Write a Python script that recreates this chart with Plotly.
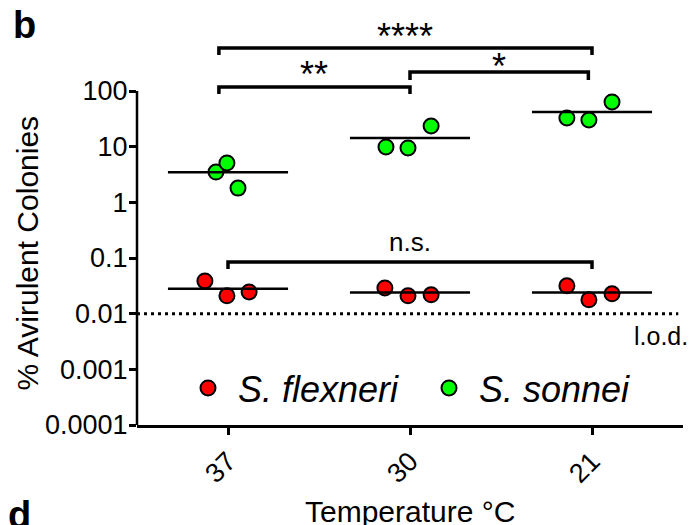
import numpy as np
import plotly.graph_objects as go

# ---------------- data ----------------
temps = ["37", "30", "21"]
flexneri = [[0.0388, 0.0209, 0.0246],
            [0.0290, 0.0209, 0.0218],
            [0.0316, 0.0177, 0.0227]]
sonnei = [[3.5, 5.1, 1.8],
          [9.9, 9.5, 23.5],
          [32.7, 30.1, 63.5]]
# horizontal scatter offsets of the replicate dots (x-axis units)
flexneri_jitter = [[-0.127, -0.006, 0.116],
                   [-0.138, -0.011, 0.116],
                   [-0.138, -0.017, 0.110]]
sonnei_jitter = [[-0.066, -0.006, 0.055],
                 [-0.132, -0.011, 0.116],
                 [-0.138, -0.017, 0.110]]
lod_value = 0.01
y_tick_vals = [0.0001, 0.001, 0.01, 0.1, 1, 10, 100]
y_tick_text = ["0.0001", "0.001", "0.01", "0.1", "1", "10", "100"]

# significance brackets: (from, to, bar level, leg end, label, label yshift)
brackets = [
    (-0.05, 2.0, 592, 443, "****", 12),
    (-0.05, 1.0, 118, 88, "**", 12),
    (1.0, 1.98, 219, 157, "*", 6),
    (0.0, 2.0, 0.0851, 0.0637, "n.s.", 20),
]

FONT = "Liberation Sans, Arial, sans-serif"
RED = "#FF0000"
GREEN = "#00FF00"

W, H = 694, 525
ML, MR, MT, MB = 137, 11, 38, 100
Y_RANGE = [-4, 2.952]

def px_x(px):
    return (px - ML) / (W - ML - MR)

def px_y(py):
    return (H - MB - py) / (H - MT - MB)

fig = go.Figure()

x_idx = np.arange(len(temps))

# limit of detection dotted line
fig.add_trace(go.Scatter(
    x=[-0.5, 2.474], y=[lod_value, lod_value], mode="lines",
    line=dict(color="black", width=3, dash="3px,4px"),
    showlegend=False, hoverinfo="skip"))

# brackets
for x0, x1, lvl, leg, lab, ys in brackets:
    fig.add_trace(go.Scatter(
        x=[x0, x0, x1, x1], y=[leg, lvl, lvl, leg], mode="lines",
        line=dict(color="black", width=3.5), showlegend=False,
        hoverinfo="skip"))

# points
def add_points(values, jitter, color, name):
    xs, ys = [], []
    for i, (vals, jit) in enumerate(zip(values, jitter)):
        for v, j in zip(vals, jit):
            xs.append(i + j)
            ys.append(v)
    fig.add_trace(go.Scatter(
        x=xs, y=ys, mode="markers", name=name,
        marker=dict(color=color, size=15, line=dict(color="black", width=2))))

add_points(flexneri, flexneri_jitter, RED, "\u00a0<i>S. flexneri</i>")
add_points(sonnei, sonnei_jitter, GREEN, "\u00a0<i>S. sonnei</i>")

# mean lines
for values in (flexneri, sonnei):
    for i, vals in enumerate(values):
        m = float(np.mean(vals))
        fig.add_trace(go.Scatter(
            x=[i - 0.33, i + 0.33], y=[m, m], mode="lines",
            line=dict(color="black", width=2.5), showlegend=False,
            hoverinfo="skip"))

annotations = []
for x0, x1, lvl, leg, lab, ys in brackets:
    annotations.append(dict(
        x=(x0 + x1) / 2, y=np.log10(lvl), xref="x", yref="y",
        text=lab, showarrow=False, xanchor="center", yanchor="middle",
        yshift=ys,
        font=dict(size=36 if "*" in lab else 26, color="black", family=FONT)))

def txt(px, py, text, size, **kw):
    d = dict(x=px_x(px), y=px_y(py), xref="paper", yref="paper", text=text,
             showarrow=False, xanchor="center", yanchor="middle",
             font=dict(size=size, color="black", family=FONT))
    d.update(kw)
    return d

annotations += [
    txt(661, 336, "l.o.d.", 25),
    txt(27, 253.5, "% Avirulent Colonies", 30, textangle=-90),
    txt(410, 511.5, "Temperature °C", 30),
    txt(24, 25, "<b>b</b>", 38),
    txt(19, 515, "<b>d</b>", 38),
]

shapes = [
    dict(type="line", xref="paper", yref="paper", x0=0, x1=0,
         y0=0, y1=(2 - Y_RANGE[0]) / (Y_RANGE[1] - Y_RANGE[0]),
         line=dict(color="black", width=2.5)),
]

fig.update_layout(
    width=W, height=H,
    margin=dict(l=ML, r=MR, t=MT, b=MB),
    paper_bgcolor="white", plot_bgcolor="white",
    font=dict(family=FONT, color="black"),
    showlegend=True,
    legend=dict(orientation="h", x=px_x(188), y=px_y(388),
                xanchor="left", yanchor="middle",
                bgcolor="rgba(0,0,0,0)",
                font=dict(size=36, family=FONT, color="black"),
                entrywidth=196, entrywidthmode="pixels"),
    xaxis=dict(range=[-0.5, 2.5], tickvals=list(x_idx), ticktext=temps,
               tickangle=-45, showgrid=False, zeroline=False,
               showline=True, linecolor="black", linewidth=2.5,
               ticks="outside", ticklen=7, tickwidth=2.5, tickcolor="black",
               tickfont=dict(size=27, family=FONT, color="black")),
    yaxis=dict(type="log", range=Y_RANGE, tickvals=y_tick_vals,
               ticktext=y_tick_text, showgrid=False, zeroline=False,
               showline=False, ticks="outside", ticklen=7, tickwidth=2.5,
               tickcolor="black", ticklabelstandoff=-4,
               tickfont=dict(size=27, family=FONT, color="black")),
    annotations=annotations,
    shapes=shapes,
)

fig.write_html("out.html")
